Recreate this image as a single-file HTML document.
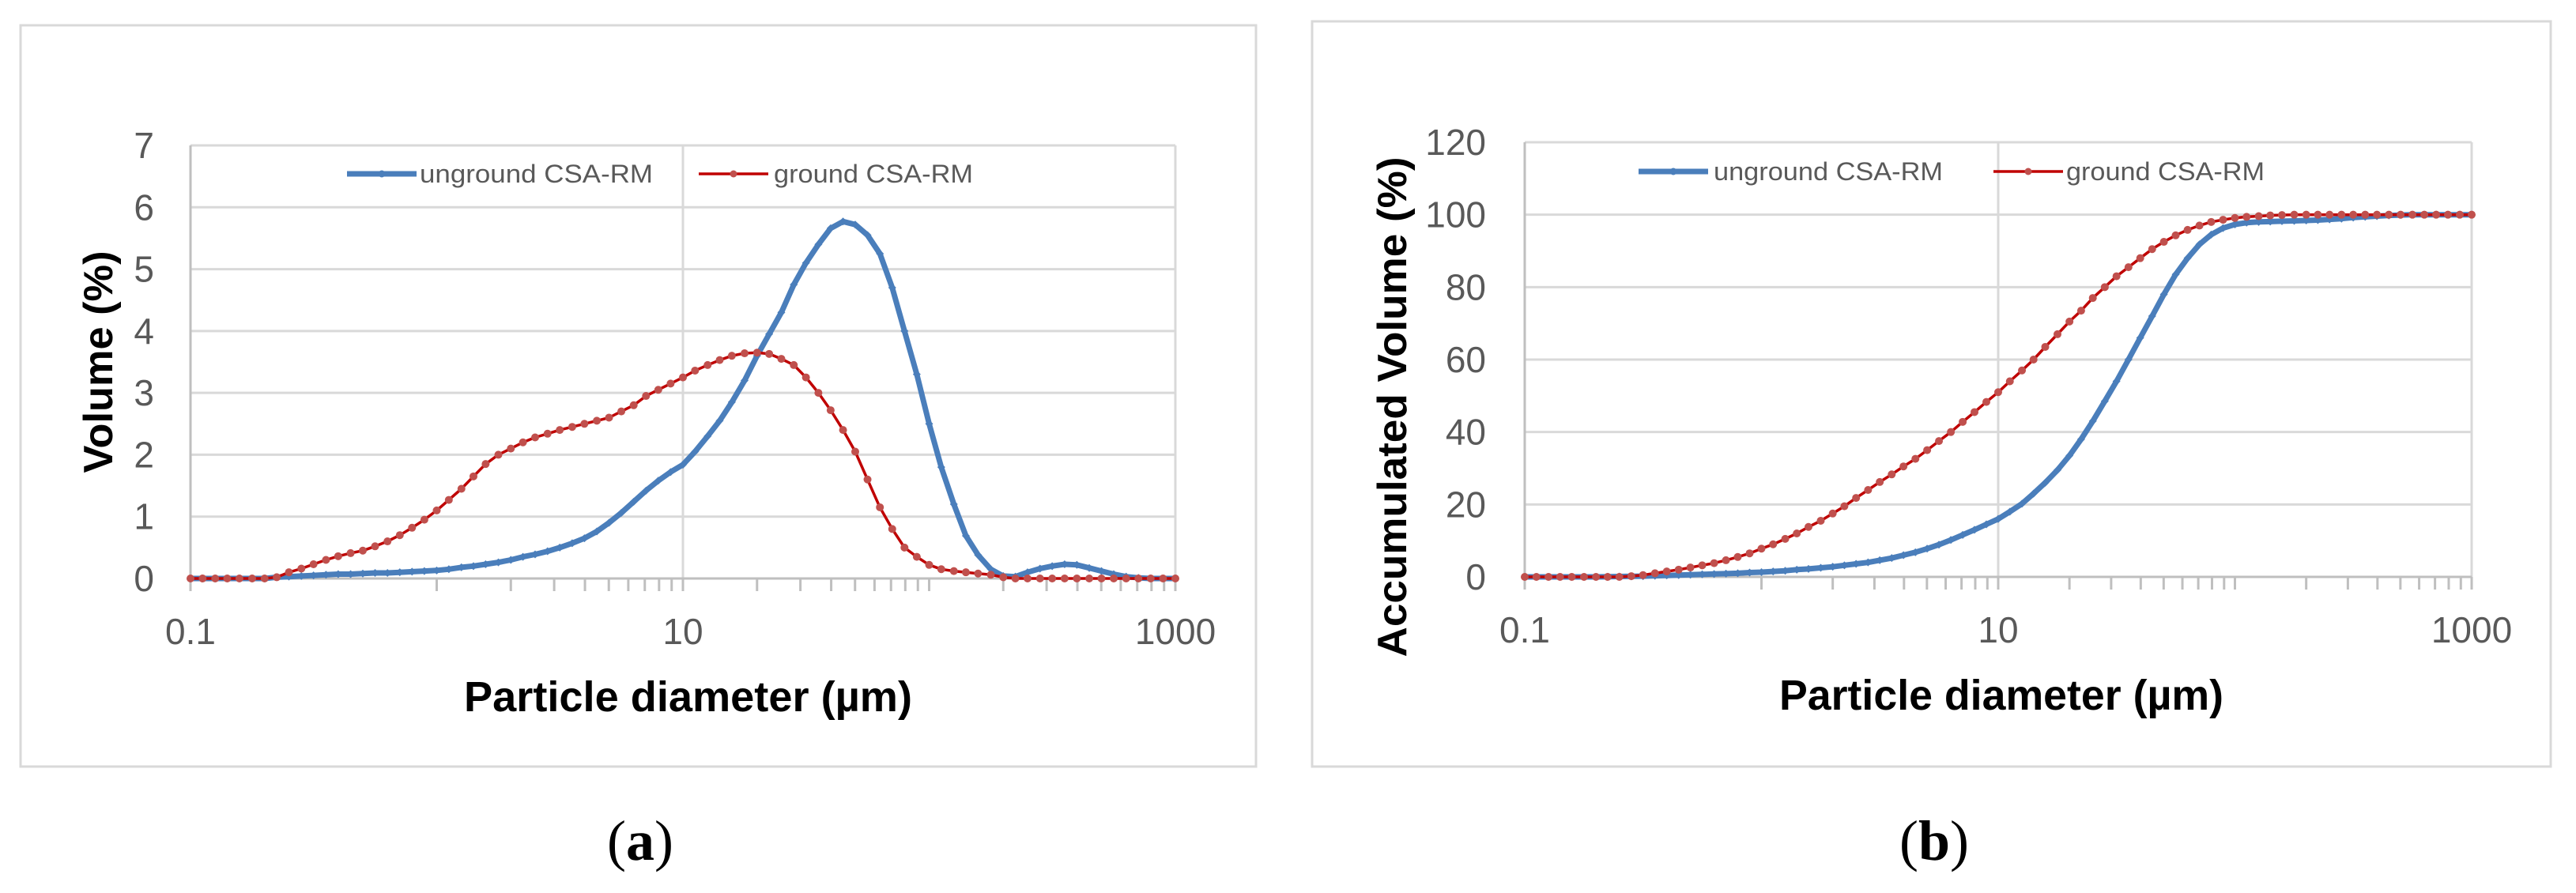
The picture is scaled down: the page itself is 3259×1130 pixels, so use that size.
<!DOCTYPE html>
<html><head><meta charset="utf-8"><style>
html,body{margin:0;padding:0;background:#fff;}
svg{display:block;}
text{font-family:"Liberation Sans",sans-serif;}
</style></head><body>
<svg id="fig" width="3259" height="1130" viewBox="0 0 3259 1130" xmlns="http://www.w3.org/2000/svg">
<rect x="26" y="32" width="1563" height="938" fill="#fff" stroke="#d9d9d9" stroke-width="3"/>
<rect x="1660" y="27" width="1567" height="943" fill="#fff" stroke="#d9d9d9" stroke-width="3"/>
<g id="ga"></g>
<g id="gb"></g>
<text x="810" y="1088" text-anchor="middle" font-size="72" style="font-family:'Liberation Serif',serif">(<tspan font-weight="bold">a</tspan>)</text>
<text x="2447" y="1088" text-anchor="middle" font-size="72" style="font-family:'Liberation Serif',serif">(<tspan font-weight="bold">b</tspan>)</text>
</svg>
<script>
const diameters=[0.1,0.112,0.126,0.141,0.158,0.178,0.2,0.224,0.251,0.282,0.316,0.355,0.398,0.447,0.501,0.562,0.631,0.708,0.794,0.891,
1,1.12,1.26,1.41,1.58,1.78,2,2.24,2.51,2.82,3.16,3.55,3.98,4.47,5.01,5.62,6.31,7.08,7.94,8.91,
10,11.2,12.6,14.1,15.8,17.8,20,22.4,25.1,28.2,31.6,35.5,39.8,44.7,50.1,56.2,63.1,70.8,79.4,89.1,
100,112,126,141,158,178,200,224,251,282,316,355,398,447,501,562,631,708,794,891,1000];
const ungroundVolume=[0,0,0,0,0,0,0,0.02,0.03,0.04,0.05,0.06,0.07,0.07,0.08,0.09,0.09,0.10,0.11,0.12,
0.13,0.15,0.18,0.2,0.23,0.26,0.3,0.35,0.39,0.44,0.5,0.57,0.65,0.76,0.9,1.06,1.24,1.42,1.58,1.72,
1.84,2.05,2.3,2.55,2.85,3.2,3.6,3.95,4.3,4.75,5.1,5.4,5.66,5.77,5.72,5.55,5.25,4.7,4.0,3.3,
2.5,1.8,1.2,0.69,0.38,0.15,0.04,0.03,0.1,0.16,0.2,0.23,0.22,0.17,0.12,0.07,0.03,0.01,0,0,0];
const groundVolume=[0,0,0,0,0,0,0,0.02,0.1,0.16,0.23,0.3,0.36,0.41,0.45,0.52,0.6,0.7,0.82,0.95,
1.1,1.27,1.45,1.65,1.85,2.0,2.1,2.2,2.28,2.34,2.4,2.45,2.5,2.55,2.6,2.7,2.8,2.95,3.05,3.15,
3.25,3.36,3.45,3.53,3.6,3.64,3.65,3.63,3.55,3.45,3.25,3.0,2.72,2.4,2.05,1.6,1.15,0.8,0.5,0.35,
0.22,0.15,0.12,0.1,0.08,0.06,0.02,0,0,0,0,0,0,0,0,0,0,0,0,0,0];
const ungroundCumulative=[0,0,0,0,0,0,0,0.05,0.1,0.15,0.2,0.3,0.4,0.5,0.6,0.7,0.8,0.9,1.0,1.2,
1.3,1.5,1.7,2.0,2.2,2.5,2.8,3.2,3.6,4.0,4.6,5.2,6,6.8,7.8,8.9,10.2,11.6,13,14.5,
16,18,20.2,23,26,29.5,33.5,38,43,48.5,54,60,66,72,78,83.5,88,91.8,94.5,96.3,
97.3,97.8,98,98.1,98.2,98.3,98.4,98.5,98.7,98.9,99.2,99.4,99.6,99.8,99.9,100,100,100,100,100,100];
const groundCumulative=[0,0,0,0,0,0,0,0,0,0.2,0.5,1,1.5,2,2.6,3.2,3.8,4.6,5.5,6.5,
7.8,9,10.5,12,13.8,15.5,17.5,19.5,21.8,24,26.2,28.3,30.5,32.6,35,37.5,40,42.8,45.5,48.3,
51,54,57,60,63.5,67,70.5,73.5,77,80,83,85.5,88,90.5,92.5,94.3,95.8,97,98,98.6,
99.1,99.4,99.6,99.8,99.9,100,100,100,100,100,100,100,100,100,100,100,100,100,100,100,100];
const xTickLabels=["0.1","10","1000"];
const xTickValues=[0.1,10,1000];
const yTicksA=[0,1,2,3,4,5,6,7];
const yTicksB=[0,20,40,60,80,100,120];
const seriesNames=["unground CSA-RM","ground CSA-RM"];

const NS="http://www.w3.org/2000/svg";
function mk(parent,tag,attrs){const e=document.createElementNS(NS,tag);for(const k in attrs)e.setAttribute(k,attrs[k]);parent.appendChild(e);return e;}

function drawChart(g,cfg){
  const L=cfg.left,R=cfg.right,T=cfg.top,B=cfg.bottom;
  const xs=v=>L+(Math.log10(v)+1)/4*(R-L);
  const ys=v=>B-(v-cfg.ymin)/(cfg.ymax-cfg.ymin)*(B-T);
  cfg.yTicks.forEach(t=>{
    const ln=mk(g,'line',{x1:L,x2:R,y1:ys(t),y2:ys(t),stroke:'#d9d9d9','stroke-width':3});
    
    
    const tx=mk(g,'text',{x:cfg.ylabX,y:ys(t)+16,'text-anchor':'end','font-size':46,fill:'#595959'});
    tx.textContent=t;
    
    
  });
  const vg=mk(g,'line',{x1:xs(10),x2:xs(10),y1:T,y2:B,stroke:'#d9d9d9','stroke-width':3});
  
  
  const rb=mk(g,'line',{x1:R,x2:R,y1:T,y2:B,stroke:'#d9d9d9','stroke-width':3});
  
  
  const ya=mk(g,'line',{x1:L,x2:L,y1:T,y2:B+16,stroke:'#bfbfbf','stroke-width':3});
  
  
  const xa=mk(g,'line',{x1:L,x2:R,y1:B,y2:B,stroke:'#bfbfbf','stroke-width':3});
  
  
  for(let d=1;d<=100;d*=10){for(let k=1;k<=9;k++){
    const x=xs(k*d);
    const tk=mk(g,'line',{x1:x,x2:x,y1:B,y2:B+16,stroke:'#bfbfbf','stroke-width':3});
    
    
  }}
  const tk2=mk(g,'line',{x1:R,x2:R,y1:B,y2:B+16,stroke:'#bfbfbf','stroke-width':3});
  
  
  xTickValues.forEach((v,i)=>{
    const tx=mk(g,'text',{x:xs(v),y:B+83,'text-anchor':'middle','font-size':46,fill:'#595959'});
    tx.textContent=xTickLabels[i];
    
    
  });
  const ser=[
    {vals:cfg.blue,color:'#4a7ebb',w:7,mc:'#4a7ebb',mr:5,diamond:true},
    {vals:cfg.red,color:'#c00000',w:3.5,mc:'#c0504d',mr:5,diamond:false}];
  ser.forEach((s,si)=>{
    const pts=diameters.map((d,i)=>xs(d).toFixed(1)+','+ys(s.vals[i]).toFixed(1)).join(' ');
    const pl=mk(g,'polyline',{points:pts,fill:'none',stroke:s.color,'stroke-width':s.w,'stroke-linejoin':'round'});
    
    
    diameters.forEach((d,i)=>{
      const cx=xs(d),cy=ys(s.vals[i]);
      let m;
      if(s.diamond){m=mk(g,'polygon',{points:`${cx},${cy-s.mr} ${cx+s.mr},${cy} ${cx},${cy+s.mr} ${cx-s.mr},${cy}`,fill:s.mc});}
      else{m=mk(g,'circle',{cx:cx,cy:cy,r:s.mr,fill:s.mc});}
      
      
    });
  });
  const lg=cfg.legend;
  [[lg.l1,lg.t1,lg.t1w,'#4a7ebb',7,'#4a7ebb'],[lg.l2,lg.t2,lg.t2w,'#c00000',3.5,'#c0504d']].forEach((e,i)=>{
    const grp=mk(g,'g',{});
    
    
    mk(grp,'line',{x1:e[0],x2:e[0]+88,y1:lg.y,y2:lg.y,stroke:e[3],'stroke-width':e[4]});
    mk(grp,'circle',{cx:e[0]+44,cy:lg.y,r:4.5,fill:e[5]});
    const tx=mk(grp,'text',{x:e[1],y:lg.y+11,'font-size':32,fill:'#595959',textLength:e[2],lengthAdjust:'spacingAndGlyphs'});
    tx.textContent=seriesNames[i];
  });
  const xt=mk(g,'text',{x:cfg.xtX,y:B+cfg.xtDy,'font-size':54,'font-weight':'bold',fill:'#000',textLength:cfg.xtW,lengthAdjust:'spacingAndGlyphs'});
  xt.textContent='Particle diameter (µm)';
  
  
  const yt=mk(g,'text',{x:0,y:0,'font-size':52,'font-weight':'bold',fill:'#000','text-anchor':'middle',textLength:cfg.ytW,lengthAdjust:'spacingAndGlyphs',transform:`translate(${cfg.ytX},${cfg.ytY}) rotate(-90)`});
  yt.textContent=cfg.ytitle;
  
  
}
drawChart(document.getElementById('ga'),{left:241,right:1487,top:184,bottom:732,ymin:0,ymax:7,yTicks:yTicksA,ylabX:195,
  blue:ungroundVolume,red:groundVolume,
  legend:{y:220,l1:439,t1:531,t1w:295,l2:884,t2:979,t2w:252},
  xtX:587,xtW:567,xtDy:168,ytitle:'Volume (%)',ytX:142,ytY:458,ytW:281});
drawChart(document.getElementById('gb'),{left:1929,right:3127,top:180,bottom:730,ymin:0,ymax:120,yTicks:yTicksB,ylabX:1880,
  blue:ungroundCumulative,red:groundCumulative,
  legend:{y:217,l1:2073,t1:2168,t1w:290,l2:2522,t2:2614,t2w:251},
  xtX:2251,xtW:562,xtDy:168,ytitle:'Accumulated Volume (%)',ytX:1779,ytY:515,ytW:633});
</script>
</body></html>
